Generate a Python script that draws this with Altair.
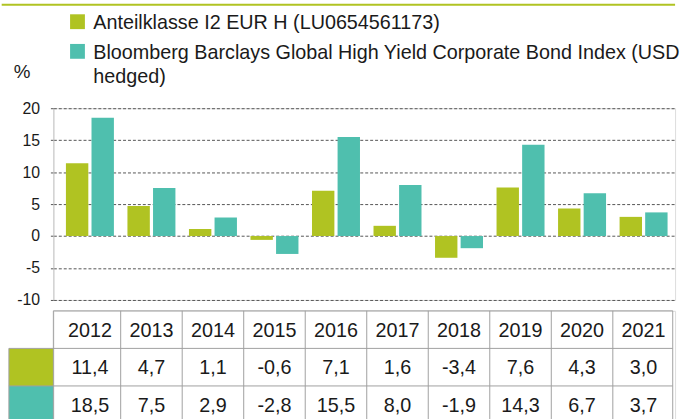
import altair as alt
import pandas as pd

years = [2012, 2013, 2014, 2015, 2016, 2017, 2018, 2019, 2020, 2021]
fund = [11.4, 4.7, 1.1, -0.6, 7.1, 1.6, -3.4, 7.6, 4.3, 3.0]
index = [18.5, 7.5, 2.9, -2.8, 15.5, 8.0, -1.9, 14.3, 6.7, 3.7]
series_names = [
    "Anteilklasse I2 EUR H (LU0654561173)",
    "Bloomberg Barclays Global High Yield Corporate Bond Index (USD hedged)",
]
colors = ["#b0c322", "#4fbfae"]
y_ticks = [-10, -5, 0, 5, 10, 15, 20]

FONT = "Liberation Sans"
TXT = "#1a1a1a"
GRID = "#555555"
TLINE = "#a0a0a0"

# geometry (years units on x)
X_MIN = 2011.406
X_MAX = 2021.512
X_TR = 2021.474        # right edge of table
X_CL = X_MIN - 0.723   # left edge of colour column
ROW_H = 38
T_H = 110
Y_MAX = T_H / ROW_H

def fmt(v):
    return f"{v:.1f}".replace(".", ",")

bars_df = pd.DataFrame(
    [{"year": y, "series": series_names[0], "k": 0, "value": v} for y, v in zip(years, fund)]
    + [{"year": y, "series": series_names[1], "k": 1, "value": v} for y, v in zip(years, index)]
)

xscale = alt.Scale(domain=[X_MIN, X_MAX], nice=False, zero=False)
cscale = alt.Scale(domain=series_names, range=colors)

label_expr = (
    "datum.label == '" + series_names[1] + "' ? "
    "['Bloomberg Barclays Global High Yield Corporate Bond Index (USD', 'hedged)'] : datum.label"
)

legend = alt.Legend(
    orient="none", legendX=14.4, legendY=-106, direction="vertical", title=None,
    symbolType="M-1,0.13H1V2.13H-1Z", symbolSize=225, symbolStrokeWidth=0,
    labelFontSize=20, labelFont=FONT, labelColor=TXT, labelLimit=800, labelOffset=6,
    labelBaseline="top", rowPadding=-20, padding=0, labelExpr=label_expr,
)

yaxis = alt.Axis(
    values=y_ticks, grid=True, gridDash=[3, 2], gridColor=GRID, gridWidth=1,
    ticks=True, tickDash=[3, 2], tickColor=GRID, tickSize=4,
    domain=True, domainColor="#c8c8c8", domainWidth=1,
    labelFontSize=16, labelFont=FONT, labelColor=TXT, labelPadding=10,
    labelExpr="'' + datum.value",
    title="%", titleAngle=0, titleX=-40.6, titleY=-37, titleAlign="left",
    titleBaseline="middle", titleFontSize=19, titleFontWeight="normal",
    titleFont=FONT, titleColor=TXT,
)

bars = alt.Chart(bars_df).transform_calculate(
    x0="datum.year + (datum.k == 0 ? -0.39 : 0.026)",
    x1="datum.year + (datum.k == 0 ? -0.026 : 0.39)",
).mark_bar().encode(
    x=alt.X("x0:Q", scale=xscale, axis=None),
    x2="x1:Q",
    y=alt.Y("value:Q", scale=alt.Scale(domain=[-10, 20], nice=False, zero=False), axis=yaxis),
    y2=alt.datum(0),
    color=alt.Color("series:N", scale=cscale, legend=legend),
)

topline = alt.Chart(pd.DataFrame({"a": [0]})).mark_rule(
    color=colors[0], strokeWidth=2
).encode(x=alt.value(-52.3), x2=alt.value(629), y=alt.value(-104.7))

top = alt.layer(bars, topline).properties(width=629, height=194)

# ---- table ----
table_rows = []
for i, y in enumerate(years):
    table_rows.append({"year": y, "row": 0, "label": str(y)})
    table_rows.append({"year": y, "row": 1, "label": fmt(fund[i])})
    table_rows.append({"year": y, "row": 2, "label": fmt(index[i])})
table_df = pd.DataFrame(table_rows)

tyscale = alt.Scale(domain=[0, Y_MAX], reverse=True, nice=False, zero=False)

text = alt.Chart(table_df).transform_calculate(yc="datum.row + 0.5").mark_text(
    fontSize=20, font=FONT, color=TXT, baseline="middle", align="center", dy=1
).encode(
    x=alt.X("year:Q", scale=xscale, axis=None),
    y=alt.Y("yc:Q", scale=tyscale, axis=None),
    text="label:N",
)

sw_df = pd.DataFrame({"series": series_names, "row": [1, 2]})
swatch = alt.Chart(sw_df).transform_calculate(
    xa=str(X_CL), xb=str(X_MIN), ya="datum.row", yb=f"min(datum.row + 1, {Y_MAX})"
).mark_rect().encode(
    x=alt.X("xa:Q", scale=xscale, axis=None), x2="xb:Q",
    y=alt.Y("ya:Q", scale=tyscale, axis=None), y2="yb:Q",
    color=alt.Color("series:N", scale=cscale, legend=None),
)

h_df = pd.DataFrame({
    "y": [0, 1, 2],
    "xa": [X_MIN, X_CL, X_CL],
    "xb": [X_TR, X_TR, X_TR],
})
hlines = alt.Chart(h_df).mark_rule(color=TLINE, strokeWidth=1).encode(
    x=alt.X("xa:Q", scale=xscale, axis=None), x2="xb:Q",
    y=alt.Y("y:Q", scale=tyscale, axis=None),
)

bounds = [X_MIN] + [y + 0.5 for y in years[:-1]] + [X_TR]
v_df = pd.DataFrame({
    "x": bounds + [X_CL],
    "ya": [0] * len(bounds) + [1],
    "yb": [Y_MAX] * (len(bounds) + 1),
})
vlines = alt.Chart(v_df).mark_rule(color=TLINE, strokeWidth=1).encode(
    x=alt.X("x:Q", scale=xscale, axis=None),
    y=alt.Y("ya:Q", scale=tyscale, axis=None), y2="yb:Q",
)

table = alt.layer(swatch, hlines, vlines, text).properties(width=629, height=T_H)

chart = alt.vconcat(top, table, spacing=1).resolve_scale(
    color="independent"
).properties(padding=0, background="white").configure_view(stroke=None).configure(
    font=FONT, style={"guide-label": {"lineHeight": 24}}
)

chart.save("out.html", embed_options={"renderer": "svg", "actions": False})
